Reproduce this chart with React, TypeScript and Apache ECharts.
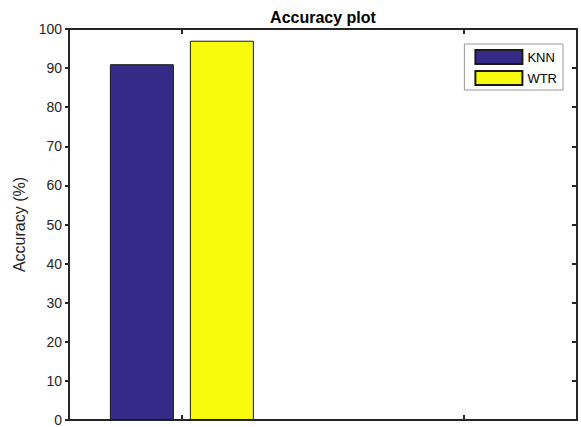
import React, { useEffect, useRef } from "react";
import * as echarts from "echarts";

const seriesNames = ["KNN", "WTR"];
const groupPositions = [1];
const knnValues = [91];
const wtrValues = [97];
const xTickValues = [1, 2];
const barColors = ["#352a87", "#f9fb0e"];
const chartTitle = "Accuracy plot";
const yAxisName = "Accuracy (%)";

const FONT = "'Liberation Sans', Arial, sans-serif";
const AXIS_COLOR = "#262626";

export default function App() {
  const ref = useRef<HTMLDivElement>(null);
  useEffect(() => {
    if (!ref.current) return;
    const chart = echarts.init(ref.current, undefined, { renderer: "svg" });
    const axisLine = { show: true, onZero: false, lineStyle: { color: AXIS_COLOR, width: 2 } };
    const valuesBySeries = [knnValues, wtrValues];
    chart.setOption({
      animation: false,
      backgroundColor: "#ffffff",
      title: {
        text: chartTitle,
        left: 323,
        top: 9,
        padding: 0,
        textAlign: "center",
        textStyle: { fontFamily: FONT, fontSize: 16, fontWeight: "bold", color: "#000" },
      },
      legend: {
        orient: "vertical",
        right: 18,
        top: 44,
        itemWidth: 47,
        itemHeight: 14,
        itemGap: 5,
        padding: [5, 6, 4, 10],
        borderColor: "#999999",
        borderWidth: 1,
        backgroundColor: "#ffffff",
        icon: "rect",
        textStyle: { fontFamily: FONT, fontSize: 13, color: "#000" },
        data: seriesNames,
      },
      grid: { left: 69, right: 4, top: 29, bottom: 4 },
      xAxis: [
        {
          type: "value",
          position: "bottom",
          min: 0.6,
          max: 2.4,
          axisLine,
          axisTick: { show: true, inside: true, length: 5, customValues: xTickValues, lineStyle: { color: AXIS_COLOR, width: 2 } },
          axisLabel: { show: false },
          splitLine: { show: false },
        },
        {
          type: "value",
          position: "top",
          min: 0.6,
          max: 2.4,
          axisLine,
          axisTick: { show: true, inside: true, length: 5, customValues: xTickValues, lineStyle: { color: AXIS_COLOR, width: 2 } },
          axisLabel: { show: false },
          splitLine: { show: false },
        },
      ],
      yAxis: [
        {
          type: "value",
          position: "left",
          min: 0,
          max: 100,
          interval: 10,
          name: yAxisName,
          nameLocation: "middle",
          nameGap: 34,
          nameTextStyle: { fontFamily: FONT, fontSize: 16, color: AXIS_COLOR },
          axisLine,
          axisTick: { show: true, inside: false, length: 4, lineStyle: { color: AXIS_COLOR, width: 2 } },
          axisLabel: { fontFamily: FONT, fontSize: 14, color: AXIS_COLOR, margin: 7 },
          splitLine: { show: false },
        },
        {
          type: "value",
          position: "right",
          min: 0,
          max: 100,
          interval: 10,
          axisLine,
          axisTick: { show: true, inside: true, length: 5, lineStyle: { color: AXIS_COLOR, width: 2 } },
          axisLabel: { show: false },
          splitLine: { show: false },
        },
      ],
      series: seriesNames.map((name, si) => ({
        name,
        type: "bar",
        xAxisIndex: 0,
        yAxisIndex: 0,
        barWidth: 64,
        barGap: "25%",
        itemStyle: { color: barColors[si], borderColor: "#1a1a1a", borderWidth: 1 },
        data: groupPositions.map((x, i) => [x, valuesBySeries[si][i]]),
      })),
    });
    return () => chart.dispose();
  }, []);
  return (
    <div
      ref={ref}
      style={{ position: "fixed", left: 0, top: 0, width: 581, height: 427 }}
    />
  );
}
